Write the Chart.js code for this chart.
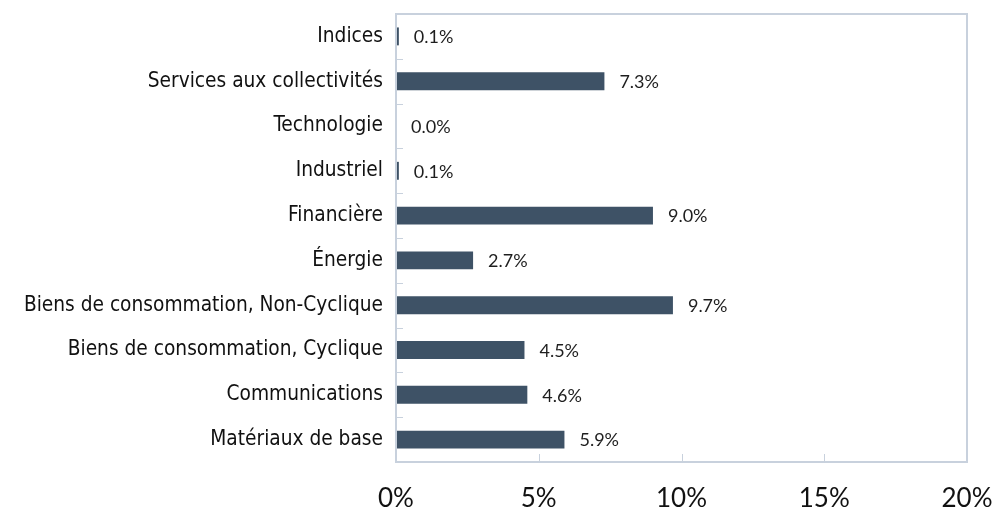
<!DOCTYPE html>
<html>
<head>
<meta charset="utf-8">
<script src="https://cdn.jsdelivr.net/npm/chart.js@4"></script>
<style>
  html, body { margin: 0; padding: 0; background: #fff; }
  #wrap { width: 998px; height: 516px; }
</style>
</head>
<body>
<div id="wrap"><canvas id="chart"></canvas></div>
<script>
// data
const sectors = ["Indices", "Services aux collectivités", "Technologie", "Industriel", "Financière",
    "Énergie", "Biens de consommation, Non-Cyclique", "Biens de consommation, Cyclique",
    "Communications", "Matériaux de base"];
const weights = [0.1, 7.3, 0.0, 0.1, 9.0, 2.7, 9.7, 4.5, 4.6, 5.9];
const xTicks = [0, 5, 10, 15, 20];

const frameColor = "#c8d1dd";

// frame, inner tick marks and value labels
const extras = {
    id: "extras",
    afterDatasetsDraw(chart) {
        const ctx = chart.ctx;
        const area = chart.chartArea;
        const x = chart.scales.x;
        const y = chart.scales.y;
        ctx.save();
        ctx.strokeStyle = frameColor;
        ctx.lineWidth = 2;
        ctx.strokeRect(area.left, area.top, area.right - area.left, area.bottom - area.top);

        ctx.lineWidth = 1;
        ctx.beginPath();
        for (let i = 1; i < sectors.length; i++) {
            const py = Math.round((y.getPixelForValue(i - 1) + y.getPixelForValue(i)) / 2) + 0.5;
            ctx.moveTo(area.left, py);
            ctx.lineTo(area.left + 7, py);
        }
        xTicks.slice(1, -1).forEach(v => {
            const px = Math.round(x.getPixelForValue(v)) + 0.5;
            ctx.moveTo(px, area.bottom);
            ctx.lineTo(px, area.bottom - 8);
        });
        ctx.stroke();

        ctx.fillStyle = "#1e1e1e";
        ctx.font = "18px Lato";
        ctx.textBaseline = "middle";
        ctx.textAlign = "left";
        const meta = chart.getDatasetMeta(0);
        meta.data.forEach((bar, i) => {
            ctx.fillText(weights[i].toFixed(1) + "%", bar.x + 15, bar.y + 1);
        });
        ctx.restore();
    }
};

new Chart(document.getElementById("chart"), {
    type: "bar",
    data: {
        labels: sectors,
        datasets: [{
            data: weights,
            backgroundColor: "#3e5266",
            categoryPercentage: 1,
            barPercentage: 0.4,
        }],
    },
    options: {
        indexAxis: "y",
        responsive: true,
        maintainAspectRatio: false,
        animation: false,
        layout: { padding: { top: 14, right: 31, left: 0, bottom: 0 } },
        plugins: {
            legend: { display: false },
            tooltip: { enabled: false },
        },
        scales: {
            x: {
                min: 0,
                max: 20,
                afterBuildTicks: (scale) => { scale.ticks = xTicks.map(v => ({ value: v })); },
                afterFit: (scale) => {
                    scale.height = 54;
                    scale.paddingLeft = 0;
                    scale.paddingRight = 0;
                },
                grid: { display: false, drawTicks: false },
                border: { display: false },
                ticks: {
                    padding: 21,
                    color: "#111",
                    font: { family: "Lato", size: 26 },
                    callback: (v) => v + "%",
                },
            },
            y: {
                afterFit: (scale) => {
                    scale.width = 396;
                    scale.paddingTop = 0;
                    scale.paddingBottom = 0;
                },
                grid: { display: false, drawTicks: false },
                border: { display: false },
                ticks: {
                    padding: 13,
                    color: "#111",
                    font: { family: "DejaVu Sans Condensed", size: 20.7 },
                },
            },
        },
    },
    plugins: [extras],
});
</script>
</body>
</html>
